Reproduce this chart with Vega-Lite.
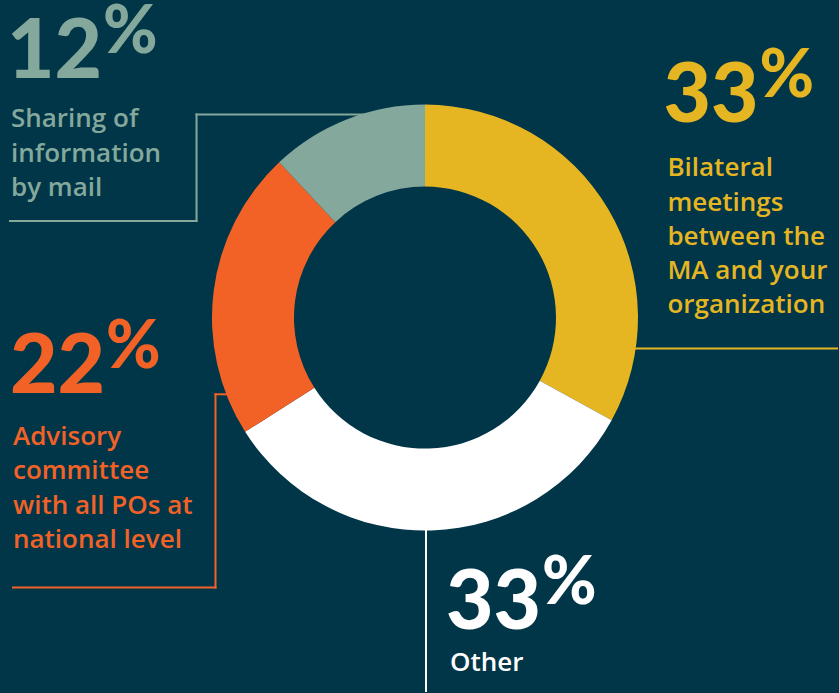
{
  "$schema": "https://vega.github.io/schema/vega-lite/v6.json",
  "width": 839,
  "height": 693,
  "autosize": {"type": "fit", "contains": "padding"},
  "padding": 0,
  "background": "#013648",
  "config": {"view": {"stroke": null}},
  "datasets": {
    "segments": [
      {"category": "Bilateral meetings between the MA and your organization", "value": 33, "idx": 1},
      {"category": "Other", "value": 33, "idx": 2},
      {"category": "Advisory committee with all POs at national level", "value": 22, "idx": 3},
      {"category": "Sharing of information by mail", "value": 12, "idx": 4}
    ],
    "labels": [
      {"category": "Sharing of information by mail", "pct": "12", "lines": ["Sharing of", "information", "by mail"], "x": -419, "y": 241, "tx": -415, "ty": 191},
      {"category": "Bilateral meetings between the MA and your organization", "pct": "33", "lines": ["Bilateral", "meetings", "between the", "MA and your", "organization"], "x": 239, "y": 196, "tx": 243, "ty": 142},
      {"category": "Advisory committee with all POs at national level", "pct": "22", "lines": ["Advisory", "committee", "with all POs at", "national level"], "x": -416, "y": -76, "tx": -413, "ty": -128},
      {"category": "Other", "pct": "33", "lines": ["Other"], "x": 21, "y": -313, "tx": 25, "ty": -355}
    ],
    "leaders": [
      {"category": "Sharing of information by mail", "x1": -61, "y1": 204, "x2": -229, "y2": 204},
      {"category": "Sharing of information by mail", "x1": -229, "y1": 204, "x2": -229, "y2": 97},
      {"category": "Sharing of information by mail", "x1": -229, "y1": 97, "x2": -416, "y2": 97},
      {"category": "Advisory committee with all POs at national level", "x1": -199, "y1": -77, "x2": -210, "y2": -77},
      {"category": "Advisory committee with all POs at national level", "x1": -210, "y1": -77, "x2": -210, "y2": -271},
      {"category": "Advisory committee with all POs at national level", "x1": -210, "y1": -271, "x2": -413, "y2": -271},
      {"category": "Bilateral meetings between the MA and your organization", "x1": 211, "y1": -31, "x2": 413, "y2": -31},
      {"category": "Other", "x1": 1, "y1": -213, "x2": 1, "y2": -375}
    ]
  },
  "encoding": {
    "color": {
      "field": "category",
      "type": "nominal",
      "legend": null,
      "scale": {
        "domain": ["Bilateral meetings between the MA and your organization", "Other", "Advisory committee with all POs at national level", "Sharing of information by mail"],
        "range": ["#E6B622", "#FFFFFF", "#F26227", "#84A99C"]
      }
    }
  },
  "layer": [
    {
      "data": {"name": "segments"},
      "mark": {"type": "arc", "outerRadius": 213, "innerRadius": 131},
      "encoding": {
        "theta": {"field": "value", "type": "quantitative", "stack": true},
        "order": {"field": "idx", "type": "quantitative"},
        "x": {"datum": 0, "type": "quantitative", "scale": {"domain": [-426, 413]}, "axis": null},
        "y": {"datum": 0, "type": "quantitative", "scale": {"domain": [-375, 318]}, "axis": null}
      }
    },
    {
      "data": {"name": "leaders"},
      "mark": {"type": "rule", "strokeWidth": 2, "strokeCap": "square"},
      "encoding": {
        "x": {"field": "x1", "type": "quantitative", "scale": {"domain": [-426, 413]}, "axis": null},
        "y": {"field": "y1", "type": "quantitative", "scale": {"domain": [-375, 318]}, "axis": null},
        "x2": {"field": "x2"},
        "y2": {"field": "y2"}
      }
    },
    {
      "data": {"name": "labels"},
      "mark": {"type": "text", "font": "Lato", "fontWeight": 900, "fontSize": 82, "align": "left", "baseline": "alphabetic"},
      "encoding": {
        "x": {"field": "x", "type": "quantitative", "scale": {"domain": [-426, 413]}, "axis": null},
        "y": {"field": "y", "type": "quantitative", "scale": {"domain": [-375, 318]}, "axis": null},
        "text": {"field": "pct"}
      }
    },
    {
      "data": {"name": "labels"},
      "mark": {"type": "text", "font": "Lato", "fontWeight": 900, "fontSize": 66, "align": "left", "baseline": "alphabetic", "dx": 96, "dy": -25, "text": "%"},
      "encoding": {
        "x": {"field": "x", "type": "quantitative", "scale": {"domain": [-426, 413]}, "axis": null},
        "y": {"field": "y", "type": "quantitative", "scale": {"domain": [-375, 318]}, "axis": null}
      }
    },
    {
      "data": {"name": "labels"},
      "mark": {"type": "text", "font": "Open Sans", "fontWeight": 600, "fontSize": 26, "lineHeight": 34.3, "align": "left", "baseline": "alphabetic"},
      "encoding": {
        "x": {"field": "tx", "type": "quantitative", "scale": {"domain": [-426, 413]}, "axis": null},
        "y": {"field": "ty", "type": "quantitative", "scale": {"domain": [-375, 318]}, "axis": null},
        "text": {"field": "lines"}
      }
    }
  ]
}
